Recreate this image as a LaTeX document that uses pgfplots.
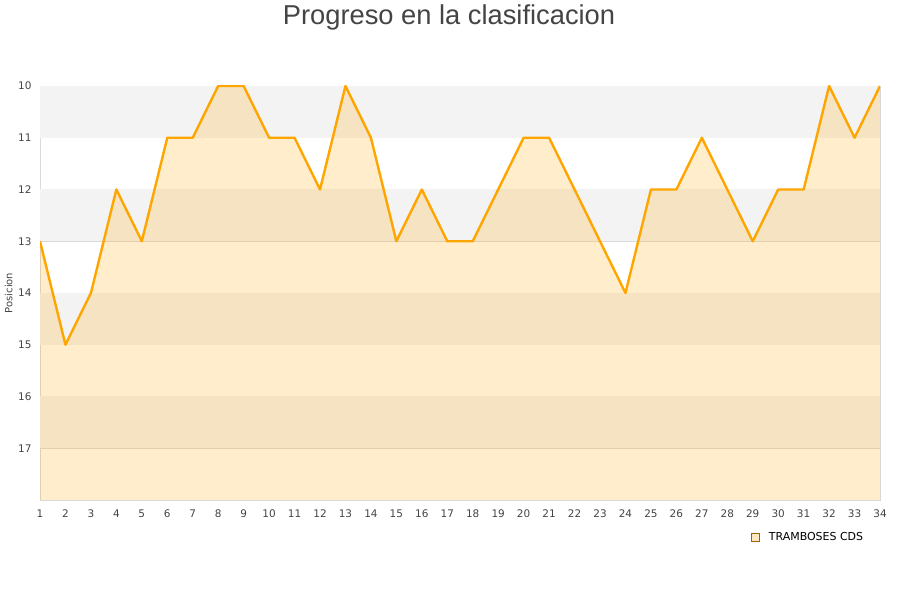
\documentclass[border=0pt]{standalone}
\usepackage{pgfplots}
\pgfplotsset{compat=1.18}
\usepackage{fontspec}
\setmainfont{DejaVu Sans}
\newfontfamily\titlefont{Liberation Sans}
\definecolor{lineor}{HTML}{FFA500}
\definecolor{band}{HTML}{F3F3F3}
\definecolor{gridc}{HTML}{DADADA}
\definecolor{txt}{HTML}{444444}
\begin{document}
\begin{tikzpicture}[x=1bp,y=1bp]
\path[use as bounding box] (0,0) rectangle (900,600);
\node[font=\titlefont\fontsize{27.4}{31}\selectfont, text=txt] at (449,583) {Progreso en la clasificacion};
\begin{axis}[
    at={(40bp,100bp)}, anchor=south west,
    scale only axis, width=840bp, height=414bp,
    xmin=1, xmax=34, ymin=10, ymax=18,
    y dir=reverse,
    xtick={1,2,...,34}, ytick={10,11,...,17},
    ymajorgrids, grid style={gridc, line width=0.8pt},
    axis line style={gridc, line width=0.8pt},
    tick style={draw=none},
    ticklabel style={font=\fontsize{10.5}{12}\selectfont, text=txt},
    xticklabel style={yshift=-6bp},
    yticklabel style={xshift=-5bp},
    /pgf/number format/assume math mode=true,
    ylabel={Posicion}, ylabel style={font=\fontsize{10}{12}\selectfont, text=txt, at={(-24bp,0.5)}, anchor=south},
    legend style={at={(0.986,-0.068)}, anchor=north east, draw=none, fill=none, font=\fontsize{11}{13}\selectfont, legend cell align=left},
]
\fill[band] (axis cs:1,10) rectangle (axis cs:34,11);
\fill[band] (axis cs:1,12) rectangle (axis cs:34,13);
\fill[band] (axis cs:1,14) rectangle (axis cs:34,15);
\fill[band] (axis cs:1,16) rectangle (axis cs:34,17);
\addplot[draw=none, fill=lineor, fill opacity=0.2, forget plot] coordinates {
(1,18) (1,13) (2,15) (3,14) (4,12) (5,13) (6,11) (7,11) (8,10) (9,10) (10,11)
(11,11) (12,12) (13,10) (14,11) (15,13) (16,12) (17,13) (18,13) (19,12) (20,11)
(21,11) (22,12) (23,13) (24,14) (25,12) (26,12) (27,11) (28,12) (29,13) (30,12)
(31,12) (32,10) (33,11) (34,10) (34,18)} -- cycle;
\addplot[lineor, line width=2.4pt, line join=round,
    legend image code/.code={\draw[draw=lineor!60!black, fill=lineor!25, line width=0.5pt] (0bp,-4bp) rectangle (8bp,4bp);}]
coordinates {
(1,13) (2,15) (3,14) (4,12) (5,13) (6,11) (7,11) (8,10) (9,10) (10,11)
(11,11) (12,12) (13,10) (14,11) (15,13) (16,12) (17,13) (18,13) (19,12) (20,11)
(21,11) (22,12) (23,13) (24,14) (25,12) (26,12) (27,11) (28,12) (29,13) (30,12)
(31,12) (32,10) (33,11) (34,10)};
\addlegendentry{\hspace{7bp}TRAMBOSES CDS}
\end{axis}
\end{tikzpicture}
\end{document}
